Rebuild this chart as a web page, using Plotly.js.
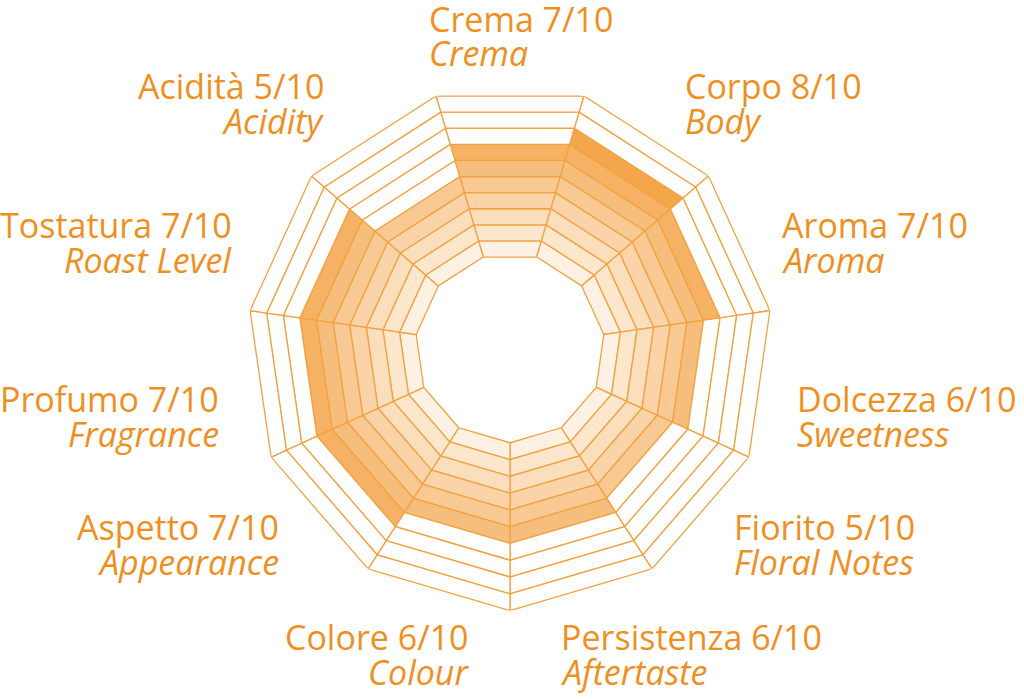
<!DOCTYPE html>
<html>
<head>
<meta charset="utf-8">
<script src="https://cdn.plot.ly/plotly-3.0.1.min.js"></script>
<style>html,body{margin:0;padding:0;background:#fff;}#chart{width:1024px;height:699px;}</style>
</head>
<body>
<div id="chart"></div>
<script>
// ---- data ----
const labelsIt = ["Crema","Corpo","Aroma","Dolcezza","Fiorito","Persistenza","Colore","Aspetto","Profumo","Tostatura","Acidità"];
const labelsEn = ["Crema","Body","Aroma","Sweetness","Floral Notes","Aftertaste","Colour","Appearance","Fragrance","Roast Level","Acidity"];
const scores   = [7, 8, 7, 6, 5, 6, 6, 7, 7, 7, 5];
const maxScore = 10;

// ---- style ----
const ringColors = ["#fdf1e3","#fce7cd","#fbdebb","#fad4a8","#f8c993","#f6be7d","#f5b264","#f4a64a","#f29b36","#f09024"];
const lineColor = "#f4a140";
const textColor = "#ef8f1f";
const FONT = "Open Sans";
const FS = 34;
const holeLevels = 5.65; // empty centre, in ring units
// label anchor positions in pixels [x, yLine1, yLine2, side]
const labelPos = [
  [428, 19, 53, "left"],
  [684, 86, 121, "left"],
  [781, 225, 260, "left"],
  [796, 399, 434, "left"],
  [733, 527, 562, "left"],
  [560, 637, 672, "left"],
  [470, 637, 672, "right"],
  [280, 527, 562, "right"],
  [220, 399, 434, "right"],
  [233, 225, 260, "right"],
  [325, 86, 121, "right"]
];

const W = 1024, H = 699;
const n = labelsIt.length;
const step = 360 / n, half = step / 2;

const traces = [];
for (let i = 0; i < n; i++) {
  const c = i * step;
  for (let k = 1; k <= maxScore; k++) {
    const filled = k <= scores[i];
    const r0 = holeLevels + k - 1, r1 = holeLevels + k;
    traces.push({
      type: "scatterpolar",
      mode: "lines",
      r: [r0, r0, r1, r1, r0],
      theta: [c - half, c + half, c + half, c - half, c - half],
      fill: "toself",
      fillcolor: filled ? ringColors[k - 1] : "#ffffff",
      line: {color: lineColor, width: 1.3},
      hoverinfo: "skip",
      showlegend: false
    });
  }
}

const annotations = [];
for (let i = 0; i < n; i++) {
  const p = labelPos[i];
  annotations.push({
    xref: "paper", yref: "paper", x: p[0] / W, y: 1 - p[1] / H,
    xanchor: p[3], yanchor: "middle", showarrow: false, borderpad: 0,
    text: labelsIt[i] + " " + scores[i] + "/" + maxScore,
    font: {family: FONT, size: FS, color: textColor}
  });
  annotations.push({
    xref: "paper", yref: "paper", x: p[0] / W, y: 1 - p[2] / H,
    xanchor: p[3], yanchor: "middle", showarrow: false, borderpad: 0,
    text: "<i>" + labelsEn[i] + "</i>",
    font: {family: FONT, size: FS, color: textColor}
  });
}

const cx = 510, cy = 348, R = 262.6;
const layout = {
  width: W, height: H,
  margin: {l: 0, r: 0, t: 0, b: 0},
  paper_bgcolor: "#ffffff",
  showlegend: false,
  polar: {
    domain: {x: [(cx - R) / W, (cx + R) / W], y: [1 - (cy + R) / H, 1 - (cy - R) / H]},
    bgcolor: "#ffffff",
    gridshape: "linear",
    radialaxis: {visible: false, range: [0, holeLevels + maxScore], showgrid: false, showline: false},
    angularaxis: {visible: false, rotation: 90, direction: "clockwise", thetaunit: "degrees",
                  showgrid: false, showline: false, showticklabels: false, ticks: ""}
  },
  annotations: annotations
};

Plotly.newPlot("chart", traces, layout, {displayModeBar: false, staticPlot: true});
</script>
</body>
</html>
